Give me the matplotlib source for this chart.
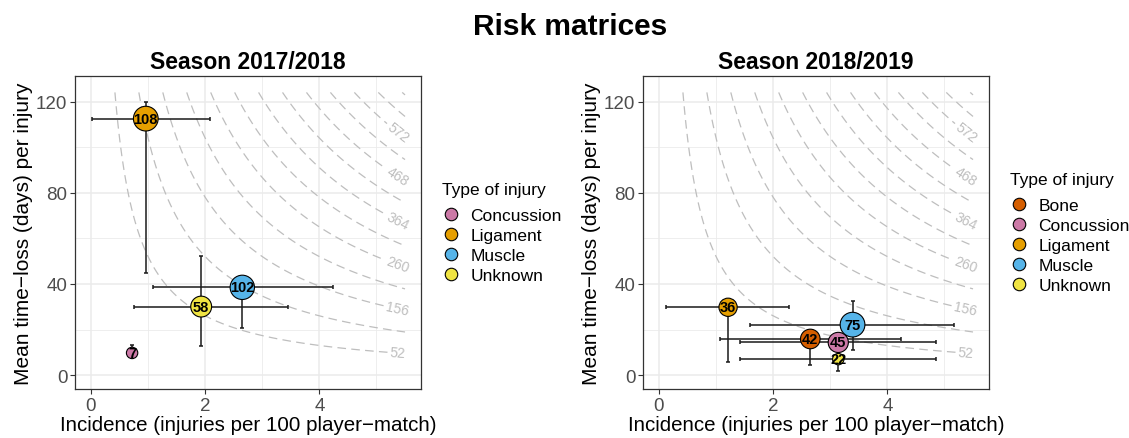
import numpy as np
import matplotlib
matplotlib.use("Agg")
import matplotlib.pyplot as plt
from matplotlib.lines import Line2D

plt.rcParams['font.family'] = ['Liberation Sans', 'DejaVu Sans']
plt.rcParams['lines.scale_dashes'] = False

# injury colours (Okabe-Ito)
colours = {'Bone': '#D55E00', 'Concussion': '#CC79A7', 'Ligament': '#E69F00',
           'Muscle': '#56B4E9', 'Unknown': '#F0E442'}

# Season 2017/2018
types_1718 = ['Concussion', 'Ligament', 'Muscle', 'Unknown']
incidence_1718 = [0.72, 0.96, 2.65, 1.93]
burden_1718 = [7, 108, 102, 58]
inc_low_1718 = [0.66, 0.01, 1.08, 0.76]
inc_high_1718 = [0.78, 2.08, 4.23, 3.45]
days_low_1718 = [7.5, 44.7, 20.6, 12.6]
days_high_1718 = [13.3, 119.9, 41.5, 52.3]

# Season 2018/2019
types_1819 = ['Bone', 'Concussion', 'Ligament', 'Muscle', 'Unknown']
incidence_1819 = [2.65, 3.14, 1.21, 3.39, 3.14]
burden_1819 = [42, 45, 36, 75, 22]
inc_low_1819 = [1.07, 1.42, 0.12, 1.60, 1.42]
inc_high_1819 = [4.23, 4.86, 2.27, 5.16, 4.86]
days_low_1819 = [4.4, 11.5, 5.8, 10.9, 1.9]
days_high_1819 = [17.5, 17.0, 31.0, 32.3, 8.5]

# iso-burden curves (incidence x days), every other one labelled
labelled_levels = [52, 156, 260, 364, 468, 572, 676]
plain_levels = [104, 208, 312, 416, 520, 624]


def risk_panel(ax, title, types, inc, burden, xlo, xhi, ylo, yhi):
    inc = np.array(inc, dtype=float)
    burden = np.array(burden, dtype=float)
    days = burden / inc

    ax.set_xlim(-0.28, 5.78)
    ax.set_ylim(-6.1, 131.2)
    ax.set_xticks([0, 2, 4])
    ax.set_yticks([0, 40, 80, 120])
    ax.set_xticks([1, 3, 5], minor=True)
    ax.set_yticks([20, 60, 100], minor=True)
    ax.grid(which='major', color='#EBEBEB', lw=1.1, zorder=0)
    ax.grid(which='minor', color='#EBEBEB', lw=0.6, zorder=0)
    ax.set_axisbelow(True)
    ax.tick_params(which='major', length=3.5, width=0.8, color='#333333',
                   labelsize=13.5, labelcolor='#4D4D4D', pad=2)
    ax.tick_params(which='minor', length=0)
    for sp in ax.spines.values():
        sp.set_color('#333333')
        sp.set_linewidth(0.9)

    gx, gy = np.meshgrid(np.linspace(0.01, 5.5, 400), np.linspace(0.5, 124, 400))
    dash = [(0, (6.2, 3.8))]
    ax.contour(gx, gy, gx * gy, levels=plain_levels, colors='#BEBEBE',
               linewidths=0.9, linestyles=dash, zorder=1)
    cs = ax.contour(gx, gy, gx * gy, levels=labelled_levels, colors='#BEBEBE',
                    linewidths=0.9, linestyles=dash, zorder=1)
    ax.clabel(cs, labelled_levels[:-1], inline=True, inline_spacing=2,
              fmt='%d', fontsize=10, colors='#BEBEBE',
              manual=[(5.37, lv / 5.37) for lv in labelled_levels[:-1]])

    ax.errorbar(inc, days, xerr=[inc - np.array(xlo), np.array(xhi) - inc],
                yerr=[days - np.array(ylo), np.array(yhi) - days],
                fmt='none', ecolor='#1A1A1A', elinewidth=1.1, capsize=1.6,
                capthick=1.1, zorder=2)

    # point area grows with sqrt of rescaled burden
    t = np.sqrt((burden - burden.min()) / (burden.max() - burden.min()))
    diam = 8.2 + (17.8 - 8.2) * t
    ax.scatter(inc, days, s=diam ** 2, c=[colours[k] for k in types],
               edgecolors='black', linewidths=0.8, zorder=3)
    for x, y, b in zip(inc, days, burden):
        ax.text(x, y, f'{int(b)}', ha='center', va='center', fontsize=10.5,
                fontweight='bold', zorder=4)

    ax.set_title(title, fontsize=16.5, fontweight='bold', pad=6)
    ax.set_xlabel('Incidence (injuries per 100 player\u2212match)', fontsize=14.8,
                  labelpad=1)
    ax.set_ylabel('Mean time\u2212loss (days) per injury', fontsize=15,
                  labelpad=2)

    handles = [Line2D([], [], ls='none', marker='o', ms=9, mfc=colours[k],
                      mec='black', mew=0.8) for k in types]
    leg = ax.legend(handles, types, title='Type of injury', loc='center left',
                    bbox_to_anchor=(1.04, 0.5), frameon=False, fontsize=12.5,
                    title_fontsize=12.5, handletextpad=0.55, labelspacing=0.27,
                    handlelength=1.1, borderaxespad=0)
    leg._legend_box.align = 'left'
    leg._legend_box.sep = 8


fig = plt.figure(figsize=(11.29, 4.39), dpi=100)
ax1 = fig.add_axes([75 / 1129, 49 / 439, 346 / 1129, 313 / 439])
ax2 = fig.add_axes([643 / 1129, 49 / 439, 346 / 1129, 313 / 439])

risk_panel(ax1, 'Season 2017/2018', types_1718, incidence_1718, burden_1718,
           inc_low_1718, inc_high_1718, days_low_1718, days_high_1718)
risk_panel(ax2, 'Season 2018/2019', types_1819, incidence_1819, burden_1819,
           inc_low_1819, inc_high_1819, days_low_1819, days_high_1819)

fig.text(0.505, 1 - 27 / 439, 'Risk matrices', ha='center', va='center',
         fontsize=21.5, fontweight='bold')

fig.savefig('out.png', dpi=100)
